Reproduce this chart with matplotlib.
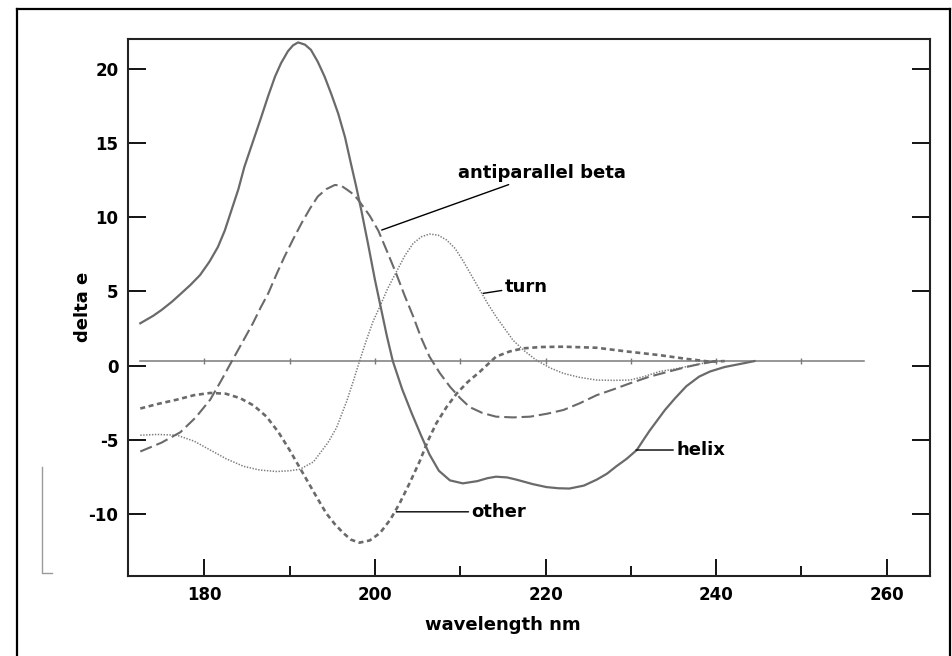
import numpy as np
import matplotlib
matplotlib.use("Agg")
import matplotlib.pyplot as plt
from matplotlib.lines import Line2D

plt.rcParams['font.family'] = ['DejaVu Sans']
plt.rcParams['lines.scale_dashes'] = False
plt.rcParams['axes.unicode_minus'] = False

# CD reference spectra (wavelength nm, delta e)
helix_wl = [172.5, 174.0, 175.0, 176.2, 177.3, 178.4, 179.5, 180.6, 181.6, 182.4,
            183.2, 184.0, 184.7, 185.7, 186.7, 187.5, 188.3, 189.0, 189.8, 190.4,
            191.0, 191.8, 192.5, 193.3, 194.1, 194.9, 195.7, 196.5, 197.2, 197.8,
            198.4, 199.2, 200.0, 200.7, 201.4, 202.1, 203.2, 204.3, 205.4, 206.4,
            207.5, 208.8, 210.3, 212.0, 213.2, 214.2, 215.5, 216.6, 218.5, 220.1,
            221.5, 222.8, 224.5, 226.0, 227.2, 228.3, 229.5, 230.7, 231.5, 232.2,
            233.1, 234.0, 235.2, 236.5, 238.0, 239.3, 241.0, 243.2, 244.5]
helix_de = [2.85, 3.35, 3.75, 4.3, 4.87, 5.45, 6.1, 7.0, 8.0, 9.1,
            10.5, 11.9, 13.4, 15.1, 16.8, 18.2, 19.5, 20.4, 21.2, 21.6,
            21.8, 21.65, 21.3, 20.5, 19.5, 18.3, 17.0, 15.4, 13.6, 12.1,
            10.5, 8.2, 5.8, 3.9, 2.0, 0.3, -1.6, -3.2, -4.7, -6.0,
            -7.1, -7.75, -7.95, -7.8, -7.6, -7.5, -7.55, -7.7, -8.0, -8.2,
            -8.28, -8.3, -8.1, -7.7, -7.3, -6.8, -6.3, -5.7, -5.0, -4.4,
            -3.7, -3.0, -2.2, -1.4, -0.75, -0.4, -0.1, 0.15, 0.3]

beta_wl = [172.5, 175.0, 177.2, 179.0, 180.7, 182.0, 183.2, 184.5, 185.7, 186.6,
           187.5, 188.5, 189.4, 190.4, 191.4, 192.4, 193.3, 194.3, 195.3, 196.0,
           196.8, 197.6, 198.4, 199.4, 200.4, 201.5, 202.5, 203.5, 204.5, 205.4,
           206.4, 207.6, 208.8, 210.0, 211.1, 212.6, 214.2, 216.2, 218.2, 220.2,
           222.1, 224.0, 226.0, 228.0, 229.9, 232.2, 234.5, 236.5, 238.1, 240.0]
beta_de = [-5.8, -5.2, -4.5, -3.5, -2.3, -1.0, 0.26, 1.6, 2.85, 3.9,
           4.87, 6.2, 7.34, 8.5, 9.6, 10.6, 11.4, 11.9, 12.18, 12.15,
           11.84, 11.5, 10.9, 10.1, 9.1, 7.6, 6.2, 4.7, 3.3, 1.9,
           0.6, -0.5, -1.43, -2.2, -2.8, -3.2, -3.45, -3.5, -3.45, -3.25,
           -3.0, -2.55, -2.0, -1.6, -1.2, -0.75, -0.4, -0.1, 0.1, 0.3]

turn_wl = [172.5, 174.5, 176.8, 178.8, 180.7, 182.6, 184.6, 186.5, 188.5, 190.0,
           191.2, 192.8, 194.5, 195.5, 196.7, 197.5, 198.2, 199.0, 199.8, 200.6,
           201.5, 202.5, 203.5, 204.5, 205.5, 206.4, 207.4, 208.4, 209.4, 210.3,
           211.3, 212.3, 213.2, 214.2, 215.2, 216.2, 217.5, 218.9, 220.5, 222.1,
           224.0, 226.0, 228.0, 229.9, 231.5, 233.4, 235.5, 237.5, 239.5, 241.0]
turn_de = [-4.7, -4.65, -4.7, -5.1, -5.7, -6.3, -6.8, -7.05, -7.15, -7.1,
           -7.0, -6.5, -5.2, -4.2, -2.4, -1.0, 0.3, 1.7, 3.0, 4.0,
           5.2, 6.3, 7.4, 8.25, 8.7, 8.87, 8.8, 8.47, 7.9, 7.1,
           6.1, 5.1, 4.2, 3.3, 2.5, 1.7, 1.0, 0.37, -0.15, -0.53,
           -0.8, -0.98, -1.0, -0.98, -0.75, -0.4, -0.2, 0.05, 0.25, 0.3]

other_wl = [172.5, 174.5, 176.8, 178.8, 180.7, 182.5, 184.2, 185.8, 187.3, 188.7,
            190.0, 191.0, 192.0, 193.2, 194.3, 195.3, 196.3, 197.2, 198.2, 199.4,
            200.6, 201.8, 202.9, 204.1, 205.3, 206.2, 207.2, 208.4, 209.6, 210.9,
            212.3, 214.2, 215.8, 217.4, 219.5, 222.1, 226.0, 229.5, 233.4, 236.5,
            239.3, 241.0]
other_de = [-2.9, -2.6, -2.3, -2.0, -1.85, -1.9, -2.2, -2.7, -3.45, -4.5,
            -5.7, -6.7, -7.7, -8.9, -9.97, -10.7, -11.3, -11.75, -11.95, -11.8,
            -11.3, -10.4, -9.3, -7.9, -6.4, -5.1, -3.9, -2.8, -1.88, -1.1,
            -0.42, 0.6, 0.95, 1.16, 1.25, 1.27, 1.2, 0.95, 0.7, 0.45,
            0.26, 0.3]

# baseline drawn a bit above zero, with little marks every 10 nm
base_wl = [172.5, 180, 190, 200, 210, 220, 230, 240, 250, 257.3]
base_de = [0.3] * len(base_wl)

fig = plt.figure(figsize=(9.52, 6.56), dpi=100)
ax = fig.add_axes([128 / 952, 1 - 576 / 656, (930 - 128) / 952, (576 - 39) / 656])

grey = '#6a6a6a'
ax.plot(base_wl, base_de, color='#7a7a7a', lw=1.1, marker='|', ms=4,
        markevery=list(range(1, len(base_wl) - 1)), mew=1.0)
ax.plot(other_wl, other_de, color=grey, lw=1.9, dashes=[3.6, 2.6])
ax.plot(turn_wl, turn_de, color='#7c7c7c', lw=1.1, dashes=[1.0, 1.1])
ax.plot(beta_wl, beta_de, color=grey, lw=1.5, dashes=[9, 3.5])
ax.plot(helix_wl, helix_de, color=grey, lw=1.6)

ax.set_xlim(171.06, 265.07)
ax.set_ylim(-14.2, 22.03)
ax.set_xticks([180, 200, 220, 240, 260])
ax.set_xticks([190, 210, 230, 250], minor=True)
ax.set_yticks([-10, -5, 0, 5, 10, 15, 20])
ax.tick_params(axis='both', which='major', direction='in', width=1.3,
               labelsize=12, pad=7)
ax.tick_params(axis='x', which='major', length=12)
ax.tick_params(axis='x', which='minor', direction='in', length=7, width=1.3)
ax.tick_params(axis='y', which='major', length=13, right=True)
for lab in ax.get_xticklabels() + ax.get_yticklabels():
    lab.set_fontweight('bold')
for s in ax.spines.values():
    s.set_linewidth(1.5)
    s.set_color('#222222')

lab_kw = dict(fontsize=13, fontweight='bold', va='center', ha='left',
              arrowprops=dict(arrowstyle='-', color='black', lw=1.0,
                              shrinkA=0, shrinkB=0))
ax.annotate('antiparallel beta', xy=(200.8, 9.14), xytext=(209.7, 13.0), **lab_kw)
ax.annotate('turn', xy=(212.7, 4.87), xytext=(215.2, 5.32), **lab_kw)
ax.annotate('helix', xy=(230.6, -5.70), xytext=(235.3, -5.70), **lab_kw)
ax.annotate('other', xy=(202.5, -9.87), xytext=(211.3, -9.87), **lab_kw)

fig.text(503 / 952, 1 - 625 / 656, 'wavelength nm', fontsize=13,
         fontweight='bold', ha='center', va='center')
fig.text(83 / 952, 1 - 307 / 656, 'delta e', fontsize=13, fontweight='bold',
         rotation=90, ha='center', va='center')

# outer frame of the scanned figure
for xs, ys in [([17, 17], [656, 9]), ([17, 950], [9, 9]), ([950, 950], [9, 656])]:
    fig.add_artist(Line2D([x / 952 for x in xs], [1 - y / 656 for y in ys],
                          color='black', lw=1.6))
# faint scan residue at the left
fig.add_artist(Line2D([42 / 952, 42 / 952, 52 / 952],
                      [1 - 467 / 656, 1 - 573 / 656, 1 - 573 / 656],
                      color='#9a9a9a', lw=1.0))

fig.savefig('out.png', dpi=100)
